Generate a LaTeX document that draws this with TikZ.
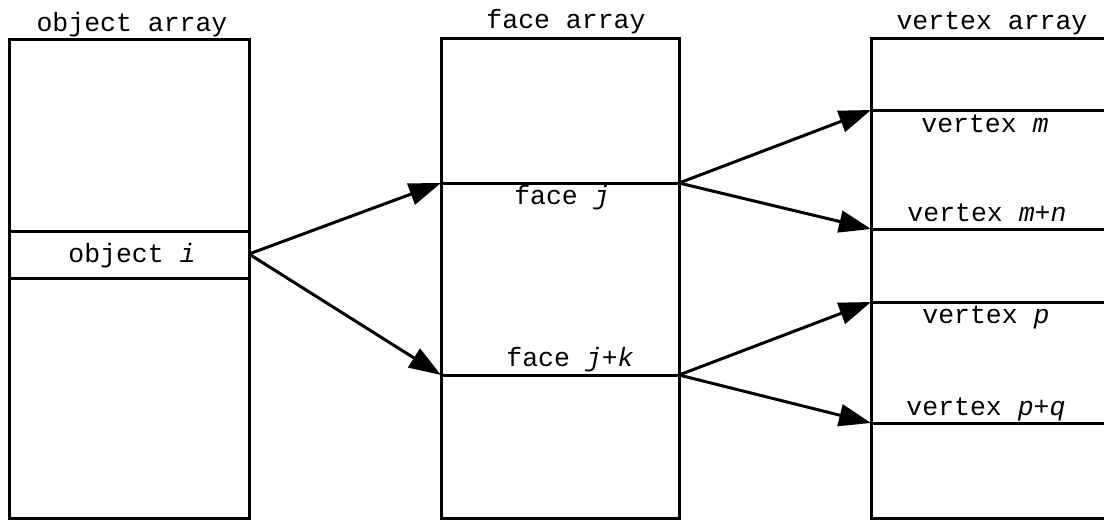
\documentclass[tikz,border=0pt]{standalone}
\usepackage{fontspec}
\setmonofont{Liberation Mono}
\usetikzlibrary{arrows.meta}
\begin{document}
\begin{tikzpicture}[x=1pt,y=-1pt,
  frame/.style={line width=3pt},
  link/.style={line width=3pt,-{Triangle[length=32pt,width=22pt]}},
  lbl/.style={font=\fontsize{26.5}{30}\selectfont\ttfamily, anchor=base, inner sep=0pt}]
\clip (0,0) rectangle (1104,520);

% array frames
\draw[frame] (9,39) rectangle (249,518);
\draw[frame] (441,38) rectangle (679,518);
\draw[frame] (871,38) rectangle (1130,518);

% slot boundaries
\draw[frame] (9,231) -- (249,231);
\draw[frame] (9,278) -- (249,278);
\draw[frame] (441,183) -- (679,183);
\draw[frame] (441,375) -- (679,375);
\draw[frame] (871,110) -- (1130,110);
\draw[frame] (871,229) -- (1130,229);
\draw[frame] (871,302) -- (1130,302);
\draw[frame] (871,423) -- (1130,423);

% titles
\node[lbl] (tobj) at (132,31) {object array};
\node[lbl] (tface) at (566,28) {face array};
\node[lbl] (tvert) at (992,29) {vertex array};

% slot labels
\node[lbl] (lobj) at (132,262) {object \textit{i}};
\node[lbl] (lfj) at (562,204) {face \textit{j}};
\node[lbl] (lfk) at (570,366) {face \textit{j+k}};
\node[lbl] (lvm) at (985,132) {vertex \textit{m}};
\node[lbl] (lvmn) at (987,221) {vertex \textit{m+n}};
\node[lbl] (lvp) at (986,323) {vertex \textit{p}};
\node[lbl] (lvpq) at (986,415) {vertex \textit{p+q}};

% link end points
\coordinate (oi) at (249,254);
\coordinate (fjl) at (441,183);
\coordinate (fjr) at (679,183);
\coordinate (fkl) at (441,375);
\coordinate (fkr) at (679,375);
\coordinate (vm) at (871,110);
\coordinate (vmn) at (871,229);
\coordinate (vp) at (871,302);
\coordinate (vpq) at (871,423);

% references
\draw[link] (oi) -- (fjl);
\draw[link] (oi) -- (fkl);
\draw[link] (fjr) -- (vm);
\draw[link] (fjr) -- (vmn);
\draw[link] (fkr) -- (vp);
\draw[link] (fkr) -- (vpq);
\end{tikzpicture}
\end{document}
